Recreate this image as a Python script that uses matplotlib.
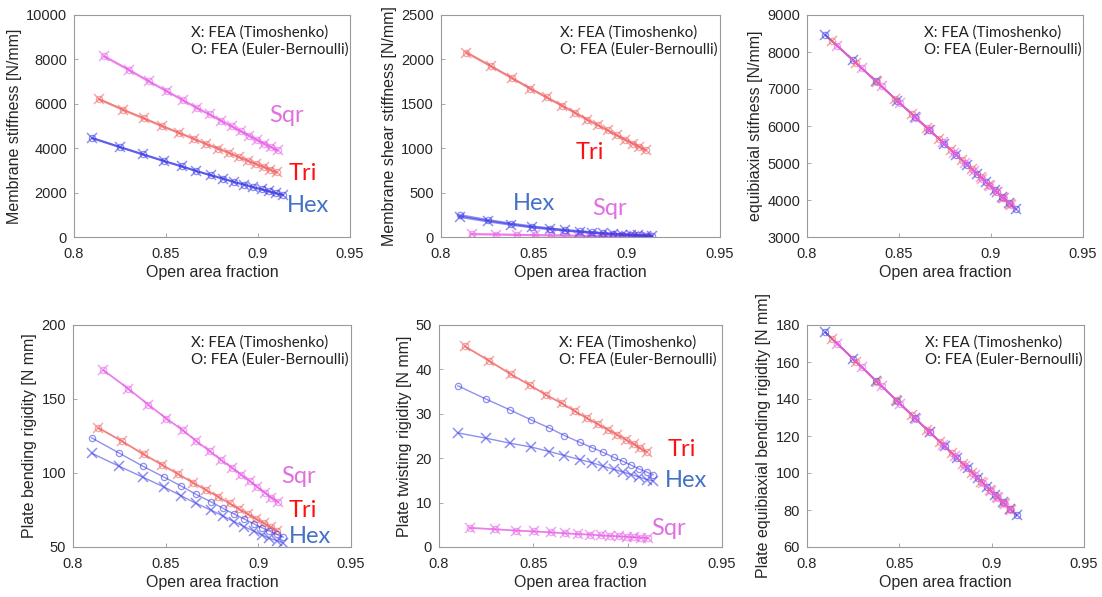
import matplotlib
matplotlib.use("Agg")
import matplotlib.pyplot as plt

plt.rcParams['font.family'] = ['Liberation Sans', 'DejaVu Sans']

# Open area fraction of each lattice family
open_hex = [0.810, 0.825, 0.8375, 0.849, 0.8585, 0.8665, 0.8745, 0.881, 0.887,
            0.8925, 0.8975, 0.902, 0.906, 0.910, 0.9135]
open_tri = [0.8137, 0.8267, 0.8381, 0.8480, 0.8569, 0.8650, 0.8719, 0.8785, 0.8845,
            0.8896, 0.8944, 0.8990, 0.9031, 0.9067, 0.9101]
open_sqr = [0.8164, 0.8298, 0.8406, 0.8504, 0.8592, 0.8666, 0.8737, 0.8800, 0.8858,
            0.8908, 0.8953, 0.8995, 0.9035, 0.9071, 0.9107]

# Membrane stiffness [N/mm]
memb_hex = [4454, 4049, 3721, 3420, 3182, 2971, 2778, 2629, 2476, 2359, 2238, 2148, 2058, 1969, 1892]
memb_tri = [6207, 5730, 5339, 4993, 4697, 4427, 4184, 3978, 3780, 3600, 3438, 3285, 3151, 3034, 2912]
memb_sqr = [8139, 7528, 7016, 6566, 6162, 5820, 5519, 5236, 4980, 4755, 4561, 4364, 4202, 4049, 3901]

# Membrane shear stiffness [N/mm]
shear_hex_timo = [228, 178, 140, 110, 90, 74, 60, 49, 40, 33, 27, 22, 18, 14, 11]
shear_hex_eb = [245, 190, 150, 117, 95, 78, 63, 52, 42, 35, 28, 23, 19, 15, 12]
shear_tri = [2077, 1926, 1791, 1672, 1571, 1480, 1401, 1323, 1258, 1202, 1146, 1097, 1052, 1015, 978]
shear_sqr = [32, 28, 24, 21, 18, 16, 14, 12, 10, 9, 8, 7, 6, 5, 5]

# Equibiaxial stiffness [N/mm]
equi_hex = [8460, 7778, 7209, 6686, 6253, 5889, 5525, 5229, 4957, 4706, 4479, 4274, 4092, 3910, 3751]
equi_tri = [8292, 7700, 7181, 6731, 6326, 5958, 5644, 5343, 5070, 4838, 4620, 4410, 4224, 4060, 3905]
equi_sqr = [8169, 7559, 7068, 6622, 6221, 5885, 5562, 5275, 5011, 4784, 4579, 4388, 4206, 4042, 3878]

# Plate bending rigidity [N mm]
bend_hex_timo = [113.4, 104.5, 97.3, 90.6, 84.5, 79.4, 74.9, 70.9, 67.0, 63.7, 60.8, 58.1, 55.9, 54.3, 52.8]
bend_hex_eb = [123.8, 113.4, 104.7, 97.3, 91.1, 85.5, 80.5, 76.1, 72.2, 68.9, 65.7, 63.0, 60.8, 58.6, 56.6]
bend_tri = [130.5, 121.3, 112.6, 105.6, 99.1, 93.3, 88.4, 83.9, 79.4, 75.6, 72.2, 68.9, 66.0, 63.3, 61.0]
bend_sqr = [169.5, 157.0, 146.2, 136.8, 128.9, 121.5, 114.8, 108.7, 103.6, 98.9, 94.6, 90.5, 86.8, 83.4, 80.4]

# Plate twisting rigidity [N mm]
twist_hex_timo = [25.7, 24.5, 23.4, 22.5, 21.5, 20.6, 19.7, 19.0, 18.2, 17.5, 16.9, 16.3, 15.8, 15.2, 14.9]
twist_hex_eb = [36.3, 33.3, 30.9, 28.6, 26.8, 25.1, 23.6, 22.4, 21.3, 20.2, 19.3, 18.4, 17.6, 16.9, 16.3]
twist_tri = [45.2, 41.9, 38.9, 36.5, 34.2, 32.4, 30.6, 29.0, 27.6, 26.4, 25.3, 24.2, 23.2, 22.2, 21.4]
twist_sqr = [4.3, 4.0, 3.7, 3.5, 3.3, 3.1, 2.9, 2.8, 2.6, 2.5, 2.4, 2.3, 2.2, 2.1, 2.0]

# Plate equibiaxial bending rigidity [N mm]
equibend_hex = [176.0, 161.7, 149.7, 138.8, 129.7, 122.0, 114.4, 108.2, 102.5, 97.2, 92.4, 88.1, 84.3, 80.5, 77.2]
equibend_tri = [172.5, 160.1, 149.2, 139.7, 131.2, 123.5, 116.9, 110.6, 104.9, 100.0, 95.4, 91.0, 87.1, 83.7, 80.4]
equibend_sqr = [169.9, 157.1, 146.8, 137.4, 129.0, 121.9, 115.2, 109.2, 103.6, 98.8, 94.5, 90.5, 86.7, 83.3, 79.8]

x_ticks = [0.8, 0.85, 0.9, 0.95]
x_ticklabels = ['0.8', '0.85', '0.9', '0.95']

LINE = {'Hex': '#3434e6', 'Tri': '#f06060', 'Sqr': '#e85ce8'}
TEXT = {'Hex': '#4472c4', 'Tri': '#ff1010', 'Sqr': '#e070e0'}
AX_COLOR = '#9a9a9a'
TXT_COLOR = '#262626'
ANNOT_FONT = ['Lato', 'DejaVu Sans']

W, H = 1102, 597
fig = plt.figure(figsize=(W / 100, H / 100), dpi=100)


def make_axes(left, right, top, bottom):
    return fig.add_axes([left / W, 1 - bottom / H, (right - left) / W, (bottom - top) / H])


def style(ax, ylim, yticks, ylabel):
    ax.set_xlim(0.8, 0.95)
    ax.set_xticks(x_ticks)
    ax.set_xticklabels(x_ticklabels)
    ax.set_ylim(*ylim)
    ax.set_yticks(yticks)
    ax.tick_params(direction='in', length=3, width=0.6, colors=AX_COLOR,
                   labelcolor=TXT_COLOR, labelsize=10.5, top=False, right=False)
    ax.tick_params(axis='x', pad=7)
    ax.tick_params(axis='y', pad=5)
    for s in ax.spines.values():
        s.set_color(AX_COLOR)
        s.set_linewidth(0.8)
    ax.set_xlabel('Open area fraction', fontsize=11.5, color=TXT_COLOR, labelpad=3)
    ax.set_ylabel(ylabel, fontsize=11.5, color=TXT_COLOR, labelpad=3)
    ax.text(0.425, 0.922, 'X: FEA (Timoshenko)', transform=ax.transAxes, fontsize=10.8,
            family=ANNOT_FONT, color='#202020', va='center', ha='left')
    ax.text(0.425, 0.845, 'O: FEA (Euler-Bernoulli)', transform=ax.transAxes, fontsize=10.8,
            family=ANNOT_FONT, color='#202020', va='center', ha='left')


def series(ax, x, y_timo, y_eb, key, lw=1.0, alpha=0.55):
    c = LINE[key]
    ax.plot(x, y_eb, '-', color=c, lw=lw, alpha=alpha, marker='o', ms=4.5,
            mfc='none', mec=c, mew=0.9)
    ax.plot(x, y_timo, '-', color=c, lw=lw, alpha=alpha, marker='x', ms=7.5, mew=1.1)


def shape_label(ax, x, y, key):
    ax.text(x, y, key, color=TEXT[key], fontsize=17, family=ANNOT_FONT,
            ha='center', va='center', clip_on=False)


# Membrane stiffness
ax1 = make_axes(74, 350, 15, 237)
series(ax1, open_sqr, memb_sqr, memb_sqr, 'Sqr', lw=1.5)
series(ax1, open_tri, memb_tri, memb_tri, 'Tri', lw=1.5)
series(ax1, open_hex, memb_hex, memb_hex, 'Hex', lw=1.5)
style(ax1, (0, 10000), range(0, 10001, 2000), 'Membrane stiffness [N/mm]')
shape_label(ax1, 0.9153, 5474, 'Sqr')
shape_label(ax1, 0.9242, 2854, 'Tri')
shape_label(ax1, 0.927, 1429, 'Hex')

# Membrane shear stiffness
ax2 = make_axes(441, 720, 15, 237)
series(ax2, open_tri, shear_tri, shear_tri, 'Tri', lw=1.5)
series(ax2, open_sqr, shear_sqr, shear_sqr, 'Sqr', lw=1.5)
series(ax2, open_hex, shear_hex_timo, shear_hex_eb, 'Hex', lw=1.8)
style(ax2, (0, 2500), range(0, 2501, 500), 'Membrane shear stiffness [N/mm]')
shape_label(ax2, 0.8799, 957, 'Tri')
shape_label(ax2, 0.8502, 376, 'Hex')
shape_label(ax2, 0.8907, 320, 'Sqr')

# Equibiaxial stiffness
ax3 = make_axes(807, 1083, 15, 237)
series(ax3, open_hex, equi_hex, equi_hex, 'Hex', lw=1.2)
series(ax3, open_tri, equi_tri, equi_tri, 'Tri', lw=1.2)
series(ax3, open_sqr, equi_sqr, equi_sqr, 'Sqr', lw=1.2)
style(ax3, (3000, 9000), range(3000, 9001, 1000), 'equibiaxial stifness [N/mm]')

# Plate bending rigidity
ax4 = make_axes(73, 351, 325, 547)
series(ax4, open_sqr, bend_sqr, bend_sqr, 'Sqr', lw=1.2)
series(ax4, open_tri, bend_tri, bend_tri, 'Tri', lw=1.2)
series(ax4, open_hex, bend_hex_timo, bend_hex_eb, 'Hex', lw=1.0)
style(ax4, (50, 200), [50, 100, 150, 200], 'Plate bending rigidity [N mm]')
shape_label(ax4, 0.9215, 97.6, 'Sqr')
shape_label(ax4, 0.9242, 74.7, 'Tri')
shape_label(ax4, 0.928, 57.2, 'Hex')

# Plate twisting rigidity
ax5 = make_axes(439, 722, 325, 547)
series(ax5, open_tri, twist_tri, twist_tri, 'Tri', lw=1.2)
series(ax5, open_hex, twist_hex_timo, twist_hex_eb, 'Hex', lw=1.0)
series(ax5, open_sqr, twist_sqr, twist_sqr, 'Sqr', lw=1.2)
style(ax5, (0, 50), range(0, 51, 10), 'Plate twisting rigidity [N mm]')
shape_label(ax5, 0.9287, 21.9, 'Tri')
shape_label(ax5, 0.931, 14.9, 'Hex')
shape_label(ax5, 0.9216, 4.1, 'Sqr')

# Plate equibiaxial bending rigidity
ax6 = make_axes(807, 1084, 325, 547)
series(ax6, open_hex, equibend_hex, equibend_hex, 'Hex', lw=1.2)
series(ax6, open_tri, equibend_tri, equibend_tri, 'Tri', lw=1.2)
series(ax6, open_sqr, equibend_sqr, equibend_sqr, 'Sqr', lw=1.2)
style(ax6, (60, 180), range(60, 181, 20), 'Plate equibiaxial bending rigidity [N mm]')

fig.savefig('out.png', dpi=100, facecolor='white')
